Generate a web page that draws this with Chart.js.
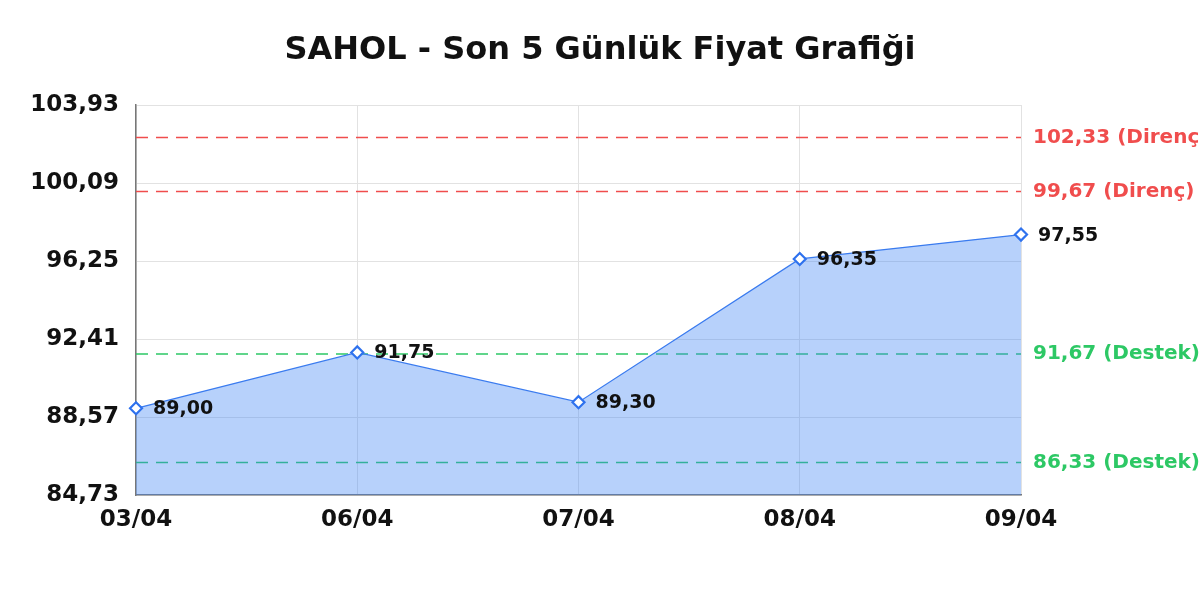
<!DOCTYPE html>
<html>
<head>
<meta charset="utf-8">
<style>
  html, body { margin: 0; padding: 0; background: #fff; }
  #wrap { width: 1200px; height: 600px; }
</style>
</head>
<body>
<div id="wrap">
  <canvas id="myChart" width="1200" height="600"></canvas>
</div>

<script src="https://cdn.jsdelivr.net/npm/chart.js"></script>

<script>
const days = ["03/04", "06/04", "07/04", "08/04", "09/04"];
const prices = [89.00, 91.75, 89.30, 96.35, 97.55];
const yTicks = [84.73, 88.57, 92.41, 96.25, 100.09, 103.93];

// support / resistance levels
const levelValues = [102.33, 99.67, 91.67, 86.33];
const levelNames = ["Direnç", "Direnç", "Destek", "Destek"];

const RED = "#f04d4d";
const GREEN = "#2dc865";
const FONT = "'DejaVu Sans', sans-serif";

const fmt = v => v.toFixed(2).replace(".", ",");
const levelColor = i => levelNames[i] === "Direnç" ? RED : GREEN;

const levelDatasets = levelValues.map((v, i) => ({
  label: fmt(v) + " (" + levelNames[i] + ")",
  data: days.map(() => v),
  borderColor: levelColor(i),
  borderWidth: 1.5,
  borderDash: [12, 8],
  pointRadius: 0,
  fill: false
}));

// value labels next to each price point
const pointLabels = {
  id: "pointLabels",
  afterDatasetsDraw(chart) {
    const ctx = chart.ctx;
    ctx.save();
    ctx.textBaseline = "middle";
    ctx.textAlign = "left";
    ctx.font = "bold 19px " + FONT;
    ctx.fillStyle = "#111";
    chart.getDatasetMeta(0).data.forEach((pt, i) => {
      ctx.fillText(fmt(prices[i]), pt.x + 17, pt.y + 1);
    });
    ctx.restore();
  }
};

const config = {
  type: "line",
  data: {
    labels: days,
    datasets: [{
      label: "SAHOL",
      data: prices,
      borderColor: "#3a7bef",
      borderWidth: 1.3,
      backgroundColor: "rgba(66,133,244,0.38)",
      fill: "start",
      tension: 0,
      pointStyle: "rectRot",
      pointRadius: 6,
      pointBorderWidth: 2.2,
      pointBorderColor: "#2f72ee",
      pointBackgroundColor: "#ffffff"
    }, ...levelDatasets]
  },
  options: {
    responsive: false,
    animation: false,
    layout: { padding: 0 },
    plugins: {
      legend: { display: false },
      tooltip: { enabled: false },
      title: {
        display: true,
        text: "SAHOL - Son 5 Günlük Fiyat Grafiği",
        color: "#111",
        font: { family: FONT, size: 32, weight: "bold" },
        padding: { top: 31, bottom: 35.6 }
      }
    },
    scales: {
      x: {
        offset: false,
        grid: { color: "#e2e2e2", drawTicks: false },
        border: { color: "#777", width: 1.5 },
        ticks: {
          color: "#111",
          padding: 11,
          maxRotation: 0,
          font: { family: FONT, size: 23, weight: "bold" }
        },
        afterFit: scale => { scale.height = 105; }
      },
      y: {
        min: yTicks[0],
        max: yTicks[yTicks.length - 1],
        grid: { color: "#e2e2e2", drawTicks: false },
        border: { color: "#777", width: 1.5 },
        ticks: {
          color: "#111",
          padding: 17,
          font: { family: FONT, size: 23, weight: "bold" },
          callback: v => fmt(v)
        },
        afterBuildTicks: scale => { scale.ticks = yTicks.map(v => ({ value: v })); },
        afterFit: scale => { scale.width = 136; }
      },
      levels: {
        position: "right",
        min: yTicks[0],
        max: yTicks[yTicks.length - 1],
        grid: { display: false, drawTicks: false },
        border: { display: false },
        ticks: {
          padding: 12,
          autoSkip: false,
          font: { family: FONT, size: 20, weight: "bold" },
          color: c => levelColor(levelValues.indexOf(c.tick.value)),
          callback: v => fmt(v) + " (" + levelNames[levelValues.indexOf(v)] + ")"
        },
        afterBuildTicks: scale => { scale.ticks = levelValues.map(v => ({ value: v })); },
        afterFit: scale => { scale.width = 179; }
      }
    }
  },
  plugins: [pointLabels]
};

const ctx = document.getElementById("myChart");
const priceChart = new Chart(ctx, config);
</script>
</body>
</html>
